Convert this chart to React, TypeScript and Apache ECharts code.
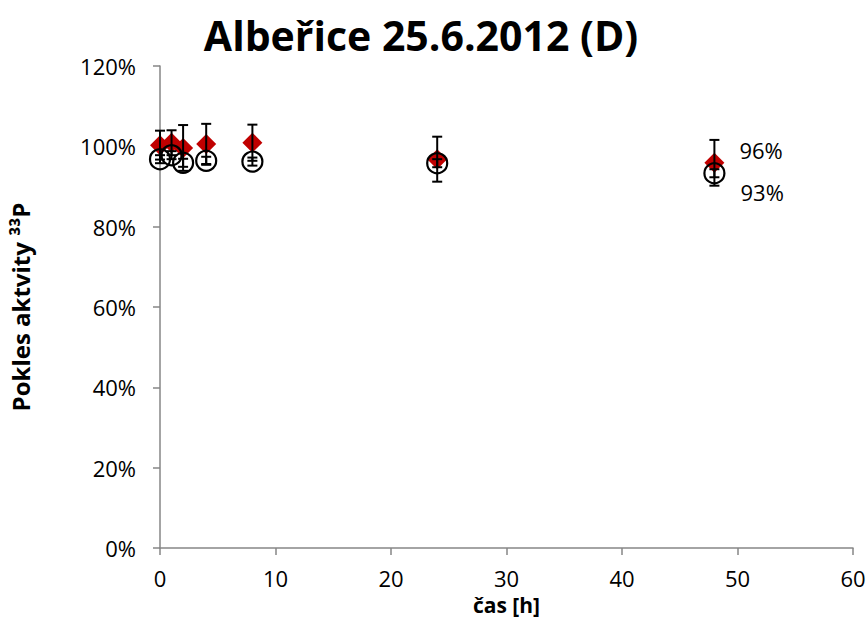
import React, { useEffect, useRef } from "react";
import * as echarts from "echarts";

const hours = [0, 1, 2, 4, 8, 24, 48];
const redValues = [100.3, 100.9, 99.6, 100.6, 100.9, 96.8, 95.9];
const redErrors = [3.6, 3.1, 5.7, 5.0, 4.5, 5.6, 5.7];
const blackValues = [96.8, 97.8, 95.9, 96.4, 96.2, 95.8, 93.3];
const blackErrors = [1.0, 1.0, 1.0, 1.0, 1.0, 1.0, 1.0];
const yTicks = [0, 20, 40, 60, 80, 100, 120];
const xTicks = [0, 10, 20, 30, 40, 50, 60];

const FONT = "'Open Sans', 'Noto Sans', sans-serif";

export default function App() {
  const ref = useRef<HTMLDivElement>(null);
  useEffect(() => {
    if (!ref.current) return;
    const chart = echarts.init(ref.current, undefined, { renderer: "svg" });

    const errData = (vals: number[], errs: number[]) =>
      hours.map((h, i) => [h, vals[i] - errs[i], vals[i] + errs[i]]);

    const renderErr = (params: any, api: any) => {
      const x = api.value(0);
      const lo = api.coord([x, api.value(1)]);
      const hi = api.coord([x, api.value(2)]);
      const cap = 5;
      const style = { stroke: "#000", lineWidth: 2 };
      return {
        type: "group",
        children: [
          { type: "line", shape: { x1: lo[0], y1: lo[1], x2: hi[0], y2: hi[1] }, style },
          { type: "line", shape: { x1: lo[0] - cap, y1: lo[1], x2: lo[0] + cap, y2: lo[1] }, style },
          { type: "line", shape: { x1: hi[0] - cap, y1: hi[1], x2: hi[0] + cap, y2: hi[1] }, style },
        ],
      };
    };

    const labelStyle = {
      show: true,
      position: "right",
      color: "#000",
      fontSize: 22,
      fontFamily: FONT,
    };

    const redData = hours.map((h, i) => {
      const item: any = { value: [h, redValues[i]] };
      if (i === hours.length - 1) {
        item.label = { ...labelStyle, offset: [10, -13], formatter: Math.round(redValues[i]) + "%" };
      }
      return item;
    });
    const blackData = hours.map((h, i) => {
      const item: any = { value: [h, blackValues[i]] };
      if (i === hours.length - 1) {
        item.label = { ...labelStyle, offset: [10, 19], formatter: Math.round(blackValues[i]) + "%" };
      }
      return item;
    });

    chart.setOption({
      animation: false,
      backgroundColor: "#fff",
      title: {
        text: "Albeřice 25.6.2012 (D)",
        left: 416,
        top: 9,
        textAlign: "center",
        textStyle: { fontSize: 41, fontWeight: "bold", color: "#000", fontFamily: FONT },
      },
      grid: { left: 160, right: 15, top: 66, bottom: 71, containLabel: false, outerBoundsMode: "none" },
      xAxis: {
        type: "value",
        min: 0,
        max: 60,
        interval: 10,
        name: "čas [h]",
        nameLocation: "middle",
        nameGap: 42,
        nameTextStyle: { fontSize: 21, fontWeight: "bold", color: "#000", fontFamily: FONT, lineHeight: 22 },
        axisLine: { show: true, lineStyle: { color: "#868686", width: 1.5 } },
        axisTick: { show: true, length: 7, lineStyle: { color: "#868686", width: 1.5 } },
        splitLine: { show: false },
        axisLabel: {
          fontSize: 22,
          lineHeight: 22,
          color: "#000",
          fontFamily: FONT,
          margin: 19,
          formatter: (v: number) => (xTicks.includes(v) ? String(v) : ""),
        },
      },
      yAxis: {
        type: "value",
        min: 0,
        max: 120,
        interval: 20,
        name: "Pokles aktvity ³³P",
        nameLocation: "middle",
        nameGap: 128,
        nameTextStyle: { fontSize: 24, fontWeight: "bold", color: "#000", fontFamily: FONT },
        axisLine: { show: true, lineStyle: { color: "#868686", width: 1.5 } },
        axisTick: { show: true, length: 7, lineStyle: { color: "#868686", width: 1.5 } },
        splitLine: { show: false },
        axisLabel: {
          fontSize: 22,
          color: "#000",
          fontFamily: FONT,
          margin: 24,
          formatter: (v: number) => (yTicks.includes(v) ? v + "%" : ""),
        },
      },
      series: [
        {
          type: "scatter",
          name: "red",
          symbol: "diamond",
          symbolSize: 20,
          itemStyle: { color: "#C00000", opacity: 1 },
          data: redData,
          z: 2,
        },
        {
          type: "scatter",
          name: "black",
          symbol: "circle",
          symbolSize: 20,
          itemStyle: { color: "rgba(0,0,0,0)", borderColor: "#000", borderWidth: 2.2, opacity: 1 },
          data: blackData,
          z: 3,
        },
        {
          type: "custom",
          renderItem: renderErr,
          data: errData(redValues, redErrors),
          z: 4,
        },
        {
          type: "custom",
          renderItem: renderErr,
          data: errData(blackValues, blackErrors),
          z: 4,
        },
      ],
    });
    return () => chart.dispose();
  }, []);
  return (
    <div
      ref={ref}
      style={{ position: "fixed", left: 0, top: 0, width: 868, height: 619 }}
    />
  );
}
